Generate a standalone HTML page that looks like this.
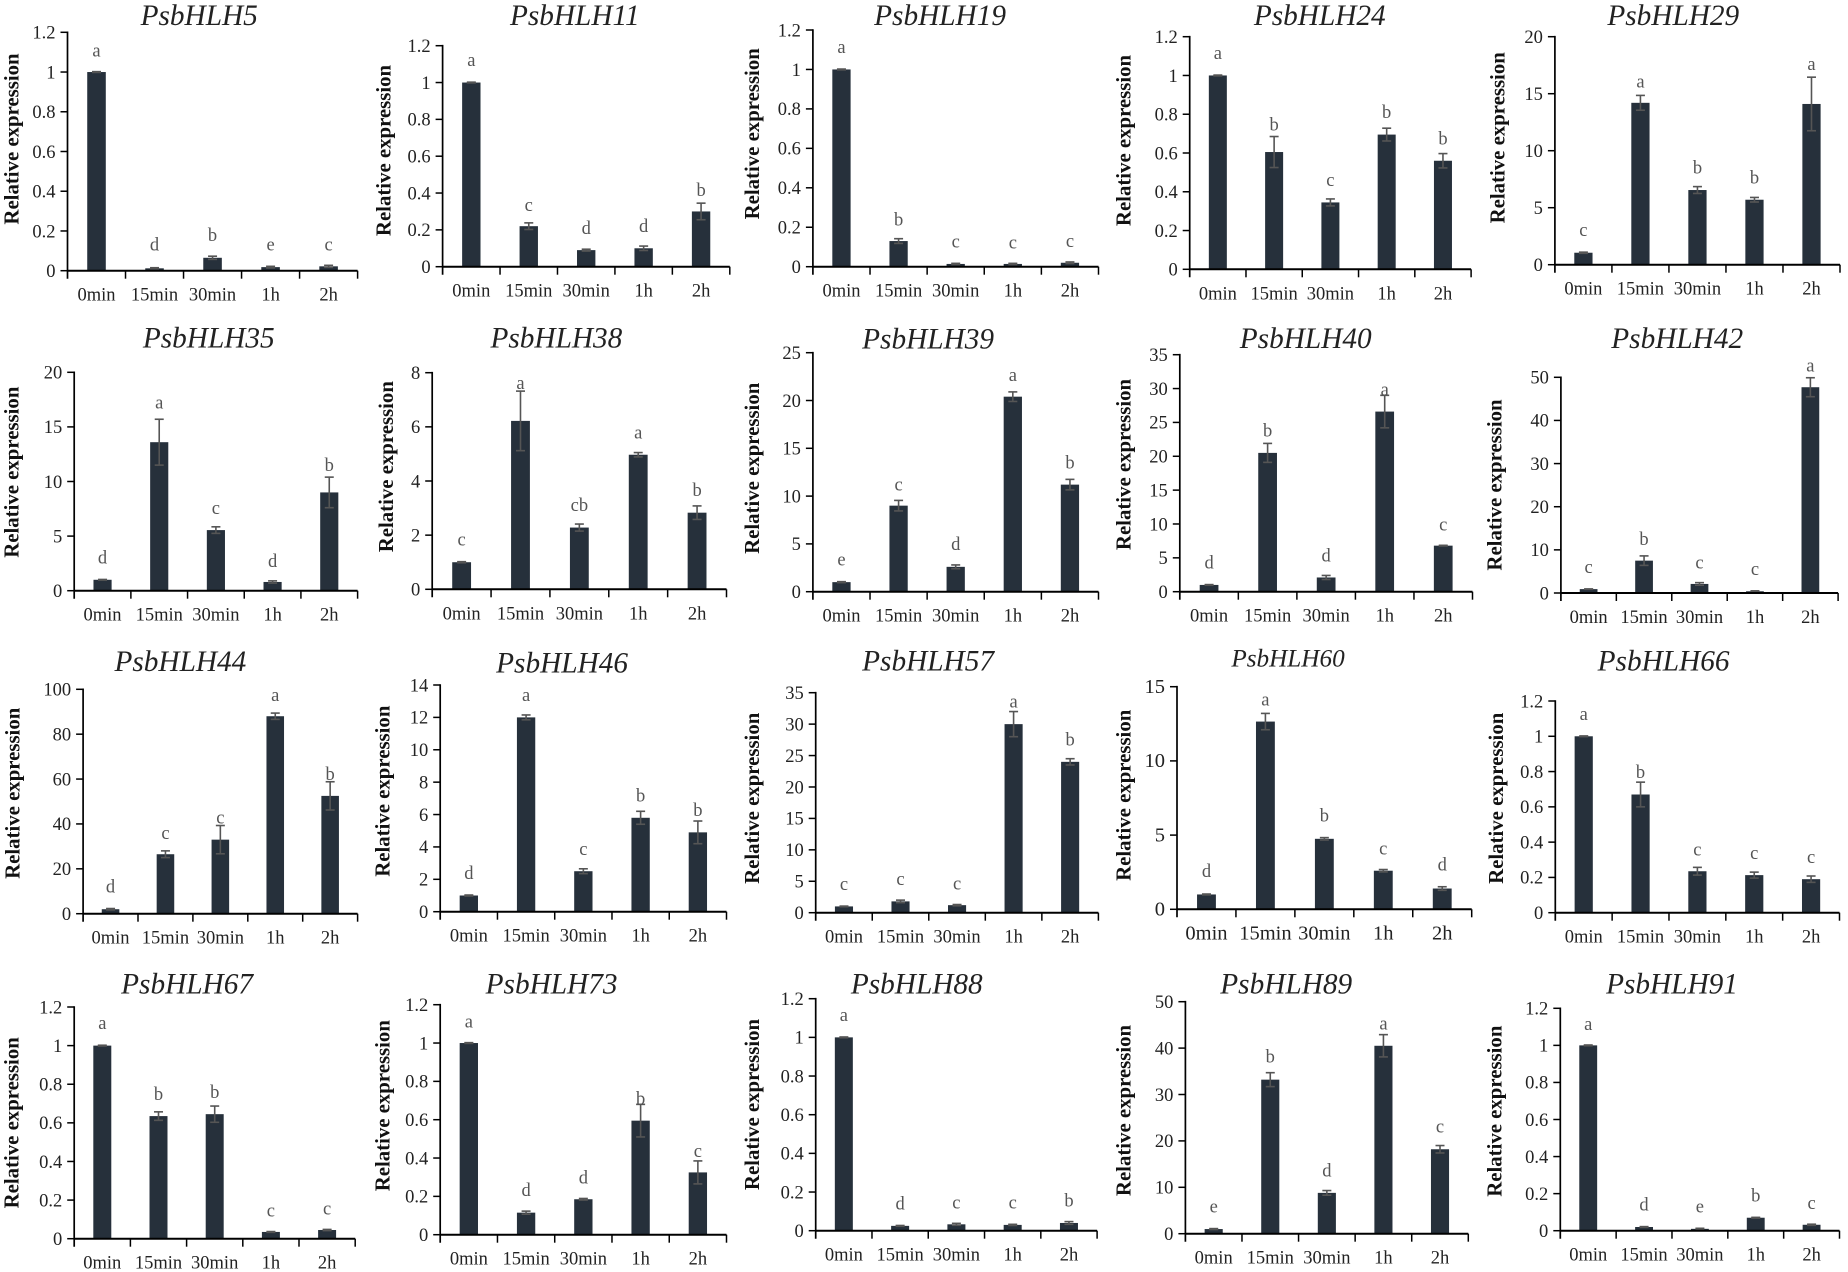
<!DOCTYPE html>
<html lang="en">
<head>
<meta charset="utf-8">
<title>PsbHLH relative expression panels</title>
<style>
html,body{margin:0;padding:0;background:#fff;}
#figure{display:block;width:1848px;height:1272px;filter:blur(0.35px);}
text{font-family:"Liberation Serif",serif;}
</style>
</head>
<body>
<svg id="figure" xmlns="http://www.w3.org/2000/svg" width="1848" height="1272" viewBox="0 0 1848 1272"></svg>
<script>
// Shared categories and tick labels
const timePoints = ['0min', '15min', '30min', '1h', '2h'];
const yAxisLabel = 'Relative expression';
const ticksTo1p2 = [0, 0.2, 0.4, 0.6, 0.8, 1, 1.2];
const ticksTo8 = [0, 2, 4, 6, 8];
const ticksTo14 = [0, 2, 4, 6, 8, 10, 12, 14];
const ticksTo15 = [0, 5, 10, 15];
const ticksTo20 = [0, 5, 10, 15, 20];
const ticksTo25 = [0, 5, 10, 15, 20, 25];
const ticksTo35 = [0, 5, 10, 15, 20, 25, 30, 35];
const ticksTo50 = [0, 10, 20, 30, 40, 50];
const ticksTo100 = [0, 20, 40, 60, 80, 100];

// Series values, standard errors, significance letters
const values5 = [1, 0.012, 0.065, 0.018, 0.022];
const errors5 = [0.002, 0.003, 0.008, 0.004, 0.005];
const letters5 = ['a', 'd', 'b', 'e', 'c'];
const values11 = [1, 0.22, 0.09, 0.1, 0.3];
const errors11 = [0.002, 0.018, 0.005, 0.012, 0.045];
const letters11 = ['a', 'c', 'd', 'd', 'b'];
const values19 = [1, 0.13, 0.014, 0.014, 0.02];
const errors19 = [0.002, 0.012, 0.003, 0.003, 0.004];
const letters19 = ['a', 'b', 'c', 'c', 'c'];
const values24 = [1, 0.605, 0.345, 0.695, 0.56];
const errors24 = [0.002, 0.08, 0.018, 0.033, 0.037];
const letters24 = ['a', 'b', 'c', 'b', 'b'];
const values29 = [1.05, 14.2, 6.55, 5.7, 14.1];
const errors29 = [0.05, 0.65, 0.3, 0.2, 2.35];
const letters29 = ['c', 'a', 'b', 'b', 'a'];
const values35 = [1, 13.6, 5.55, 0.8, 9];
const errors35 = [0.03, 2.1, 0.3, 0.1, 1.4];
const letters35 = ['d', 'a', 'c', 'd', 'b'];
const values38 = [1, 6.22, 2.28, 4.97, 2.83];
const errors38 = [0.02, 1.1, 0.13, 0.08, 0.25];
const letters38 = ['c', 'a', 'cb', 'a', 'b'];
const values39 = [1, 9, 2.6, 20.4, 11.2];
const errors39 = [0.05, 0.55, 0.2, 0.5, 0.55];
const letters39 = ['e', 'c', 'd', 'a', 'b'];
const values40 = [1, 20.5, 2.1, 26.6, 6.8];
const errors40 = [0.05, 1.4, 0.3, 2.4, 0.05];
const letters40 = ['d', 'b', 'd', 'a', 'c'];
const values42 = [0.9, 7.5, 2.1, 0.4, 47.7];
const errors42 = [0.05, 1.1, 0.3, 0.1, 2.2];
const letters42 = ['c', 'b', 'c', 'c', 'a'];
const values44 = [2, 26.5, 33, 88, 52.5];
const errors44 = [0.3, 1.5, 6.3, 1.4, 6.3];
const letters44 = ['d', 'c', 'c', 'a', 'b'];
const values46 = [1, 12, 2.5, 5.8, 4.9];
const errors46 = [0.03, 0.15, 0.15, 0.4, 0.7];
const letters46 = ['d', 'a', 'c', 'b', 'b'];
const values57 = [1, 1.8, 1.2, 30, 24];
const errors57 = [0.05, 0.2, 0.1, 2, 0.5];
const letters57 = ['c', 'c', 'c', 'a', 'b'];
const values60 = [1, 12.65, 4.75, 2.6, 1.4];
const errors60 = [0.03, 0.55, 0.08, 0.08, 0.12];
const letters60 = ['d', 'a', 'b', 'c', 'd'];
const values66 = [1, 0.67, 0.235, 0.213, 0.19];
const errors66 = [0.002, 0.07, 0.022, 0.017, 0.018];
const letters66 = ['a', 'b', 'c', 'c', 'c'];
const values67 = [1, 0.635, 0.645, 0.035, 0.045];
const errors67 = [0.002, 0.022, 0.042, 0.002, 0.003];
const letters67 = ['a', 'b', 'b', 'c', 'c'];
const values73 = [1, 0.115, 0.185, 0.595, 0.325];
const errors73 = [0.002, 0.008, 0.004, 0.085, 0.06];
const letters73 = ['a', 'd', 'd', 'b', 'c'];
const values88 = [1, 0.025, 0.033, 0.03, 0.04];
const errors88 = [0.002, 0.002, 0.005, 0.003, 0.007];
const letters88 = ['a', 'd', 'c', 'c', 'b'];
const values89 = [1, 33.2, 8.8, 40.5, 18.2];
const errors89 = [0.1, 1.5, 0.5, 2.4, 0.8];
const letters89 = ['e', 'b', 'd', 'a', 'c'];
const values91 = [1, 0.02, 0.01, 0.07, 0.032];
const errors91 = [0.002, 0.002, 0.003, 0.002, 0.003];
const letters91 = ['a', 'd', 'e', 'b', 'c'];

// Panel wiring: gene name with its data arrays
const panels = [
  {gene:'PsbHLH5',  values:values5,  errors:errors5,  letters:letters5,  ticks:ticksTo1p2},
  {gene:'PsbHLH11', values:values11, errors:errors11, letters:letters11, ticks:ticksTo1p2},
  {gene:'PsbHLH19', values:values19, errors:errors19, letters:letters19, ticks:ticksTo1p2},
  {gene:'PsbHLH24', values:values24, errors:errors24, letters:letters24, ticks:ticksTo1p2},
  {gene:'PsbHLH29', values:values29, errors:errors29, letters:letters29, ticks:ticksTo20},
  {gene:'PsbHLH35', values:values35, errors:errors35, letters:letters35, ticks:ticksTo20},
  {gene:'PsbHLH38', values:values38, errors:errors38, letters:letters38, ticks:ticksTo8},
  {gene:'PsbHLH39', values:values39, errors:errors39, letters:letters39, ticks:ticksTo25},
  {gene:'PsbHLH40', values:values40, errors:errors40, letters:letters40, ticks:ticksTo35},
  {gene:'PsbHLH42', values:values42, errors:errors42, letters:letters42, ticks:ticksTo50},
  {gene:'PsbHLH44', values:values44, errors:errors44, letters:letters44, ticks:ticksTo100},
  {gene:'PsbHLH46', values:values46, errors:errors46, letters:letters46, ticks:ticksTo14},
  {gene:'PsbHLH57', values:values57, errors:errors57, letters:letters57, ticks:ticksTo35},
  {gene:'PsbHLH60', values:values60, errors:errors60, letters:letters60, ticks:ticksTo15},
  {gene:'PsbHLH66', values:values66, errors:errors66, letters:letters66, ticks:ticksTo1p2},
  {gene:'PsbHLH67', values:values67, errors:errors67, letters:letters67, ticks:ticksTo1p2},
  {gene:'PsbHLH73', values:values73, errors:errors73, letters:letters73, ticks:ticksTo1p2},
  {gene:'PsbHLH88', values:values88, errors:errors88, letters:letters88, ticks:ticksTo1p2},
  {gene:'PsbHLH89', values:values89, errors:errors89, letters:letters89, ticks:ticksTo50},
  {gene:'PsbHLH91', values:values91, errors:errors91, letters:letters91, ticks:ticksTo1p2}
];

// Layout only: x0, x1, yTop, yBottom, titleX, titleBaseline, axisTitleX, axisTitleY
const frames = [
  [67.5,357.6,32.3,270.7,199.2,25,12,139],
  [442.6,729.8,45.7,266.7,574.8,25,384,150.5],
  [812.9,1098.5,30,266.7,940.1,25,752.7,133.8],
  [1189.7,1471.1,36.7,269.3,1319.8,25,1124,140.5],
  [1554.9,1840,36.7,264.7,1673.3,25,1498,137.8],
  [74.2,357.6,372.3,590.7,208.8,347.7,11.9,472.2],
  [432.2,726.5,372.7,589.3,556.4,347.7,386.4,466.7],
  [812.9,1098.5,352.7,591.7,928.1,348.3,752.7,468.3],
  [1179.8,1472.5,354.7,591.7,1305.7,348,1124,464.5],
  [1560.9,1838.1,377.3,593,1677.2,348,1495.1,485],
  [83.1,357.6,689.3,913.7,180.4,671,13.2,793.3],
  [440.2,726.5,685,911.7,562.1,672.3,383.1,791.2],
  [815.7,1098.4,692.7,912.7,928.1,670.7,752.7,798.3],
  [1177,1471.7,686.7,909.3,1288,666.7,1124,795.3],
  [1555.3,1839.5,701,912.7,1663.6,670.7,1496.6,798.3],
  [74.2,355.2,1007,1238.7,187.1,993.3,11.9,1122.8],
  [440.2,726.5,1004.7,1234.7,551.6,993.3,383.1,1105.7],
  [815.7,1097.1,998.7,1230.7,916.8,993.3,752.7,1104.5],
  [1185.4,1468.3,1001.7,1233.7,1286.2,993.3,1124,1110.5],
  [1560.3,1839.5,1008.3,1230.7,1672,993.3,1495.1,1111.2]
];
// Layout only: pixel gap between each error-bar top and its letter baseline
const letterLifts = [
  [15,17,15,16,15],[16,12,15,14,7],[16,13,16,15,15],[16,6,13,10,9],[16,8,13,14,7],
  [16,11,13,14,6],[16,2,13,14,10],[16,10,15,11,11],[16,7,14,0,15],[16,11,14,16,6],
  [16,12,2,12,2],[16,14,14,10,5],[16,15,15,4,13],[17,8,16,15,16],[16,4,12,13,13],
  [16,12,8,15,15],[15,15,15,0,4],[16,16,15,16,15],[16,10,14,5,13],[15,16,16,16,15]
];
const smallTitleGene = 'PsbHLH60';

const SVG_NS = 'http://www.w3.org/2000/svg';
const figure = document.getElementById('figure');
const BAR_RATIO = 0.32;
const CAP_HALF = 4.5;
const Y_TICK_LENGTH = 7;

function line(parent, x1, y1, x2, y2, color, width) {
  const el = document.createElementNS(SVG_NS, 'line');
  el.setAttribute('x1', x1);
  el.setAttribute('y1', y1);
  el.setAttribute('x2', x2);
  el.setAttribute('y2', y2);
  el.setAttribute('stroke', color);
  el.setAttribute('stroke-width', width);
  parent.appendChild(el);
  return el;
}
function label(parent, x, y, str, size, color, anchor) {
  const el = document.createElementNS(SVG_NS, 'text');
  el.setAttribute('x', x);
  el.setAttribute('y', y);
  el.setAttribute('font-size', size);
  el.setAttribute('fill', color);
  el.setAttribute('text-anchor', anchor);
  el.textContent = str;
  parent.appendChild(el);
  return el;
}

panels.forEach(function (panel, p) {
  const f = frames[p];
  const x0 = f[0], x1 = f[1], yTop = f[2], yBottom = f[3];
  const domainMax = panel.ticks[panel.ticks.length - 1];
  const band = (x1 - x0) / timePoints.length;
  const yScale = function (v) { return yBottom - (v / domainMax) * (yBottom - yTop); };
  const xCenter = function (i) { return x0 + (i + 0.5) * band; };
  const isSmall = panel.gene === smallTitleGene;
  const tickFont = isSmall ? 20.5 : 18.5;
  const titleFont = isSmall ? 25.2 : 29.3;

  const g = document.createElementNS(SVG_NS, 'g');
  
  
  figure.appendChild(g);

  const title = label(g, f[4], f[5], panel.gene, titleFont, '#222', 'middle');
  title.setAttribute('font-style', 'italic');
  
  

  const axisTitle = label(g, 0, 0, yAxisLabel, 20.8, '#111', 'middle');
  axisTitle.setAttribute('font-weight', 'bold');
  axisTitle.setAttribute('transform', 'translate(' + (f[6] + 6.5) + ' ' + f[7] + ') rotate(-90)');
  
  

  panel.values.forEach(function (v, i) {
    const cx = xCenter(i);
    const bw = band * BAR_RATIO;
    const bar = document.createElementNS(SVG_NS, 'rect');
    bar.setAttribute('x', cx - bw / 2);
    bar.setAttribute('y', yScale(v));
    bar.setAttribute('width', bw);
    bar.setAttribute('height', yBottom - yScale(v));
    bar.setAttribute('fill', '#26303b');
    
    
    g.appendChild(bar);

    const e = panel.errors[i];
    const yHigh = yScale(v + e);
    const yLow = yScale(v - e);
    const stem = line(g, cx, yHigh, cx, yLow, '#555', 1.6);
    
    
    const capTop = line(g, cx - CAP_HALF, yHigh, cx + CAP_HALF, yHigh, '#555', 1.6);
    
    
    const capBottom = line(g, cx - CAP_HALF, yLow, cx + CAP_HALF, yLow, '#555', 1.6);
    
    

    const letter = label(g, cx, yHigh - letterLifts[p][i], panel.letters[i], 18.5, '#555', 'middle');
    
    

    const xLabel = label(g, cx, yBottom + 30, timePoints[i], tickFont, '#222', 'middle');
    
    
  });

  const yAxis = line(g, x0, yTop - 0.8, x0, yBottom + 8, '#000', 1.7);
  
  
  const xAxis = line(g, x0, yBottom, x1, yBottom, '#000', 2);
  
  

  for (let i = 1; i <= timePoints.length; i++) {
    const tx = x0 + i * band;
    const xTick = line(g, tx, yBottom, tx, yBottom + 8, '#000', 1.5);
    
    
  }

  panel.ticks.forEach(function (t) {
    const ty = yScale(t);
    const yTick = line(g, x0 - Y_TICK_LENGTH, ty, x0, ty, '#000', 1.5);
    
    
    const yLabel = label(g, x0 - 12, ty + 6.3, String(t), tickFont, '#222', 'end');
    
    
  });
});
</script>
</body>
</html>
